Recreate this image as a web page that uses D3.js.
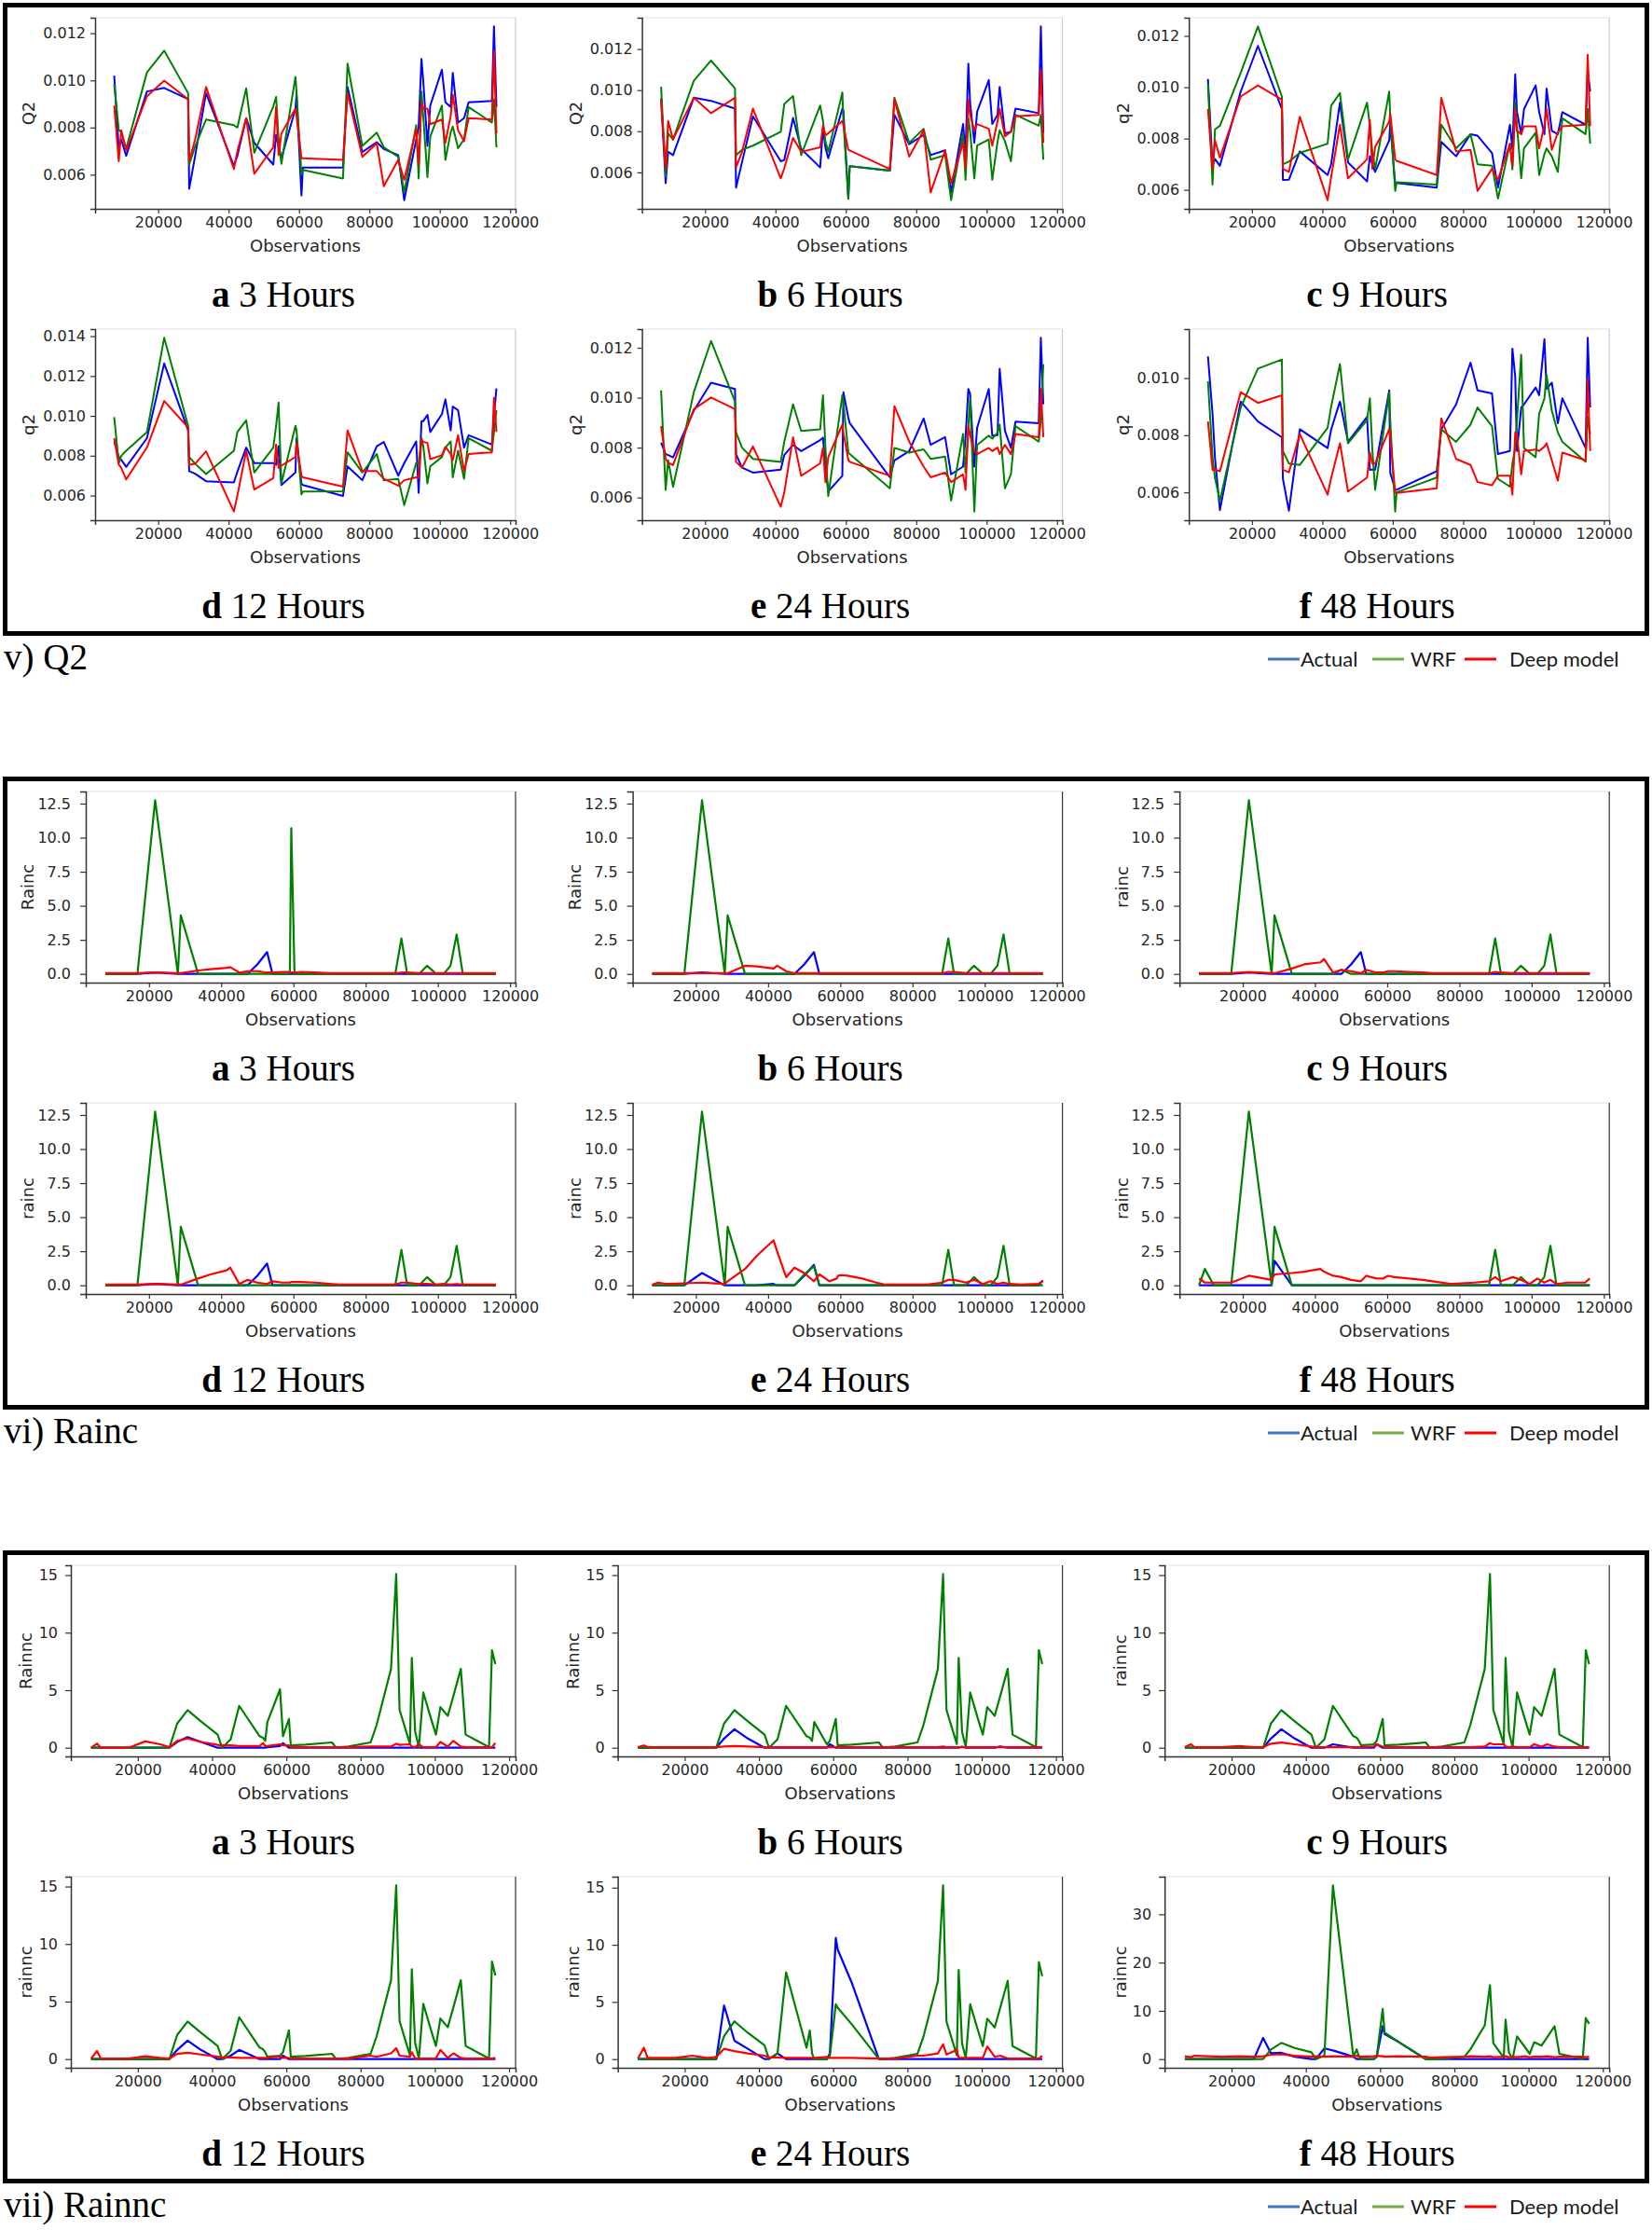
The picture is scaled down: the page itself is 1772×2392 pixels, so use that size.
<!DOCTYPE html>
<html><head><meta charset="utf-8">
<script src="https://cdn.jsdelivr.net/npm/d3@7"></script>
<style>body{margin:0;background:#fff}</style>
</head><body><svg id="c" width="1772" height="2392" xmlns="http://www.w3.org/2000/svg"></svg>
<script>
// ---------- labels ----------
const SECTION_LABELS = ["v) Q2", "vi) Rainc", "vii) Rainnc"];
const PANEL_LETTERS = ["a", "b", "c", "d", "e", "f"];
const PANEL_HOURS = ["3 Hours", "6 Hours", "9 Hours", "12 Hours", "24 Hours", "48 Hours"];
const Q2_YLABELS = ["Q2", "Q2", "q2", "q2", "q2", "q2"];
const RAINC_YLABELS = ["Rainc", "Rainc", "rainc", "rainc", "rainc", "rainc"];
const RAINNC_YLABELS = ["Rainnc", "Rainnc", "rainnc", "rainnc", "rainnc", "rainnc"];
const LEGEND_NAMES = ["Actual", "WRF", "Deep model"];
const X_TICKS = [20000, 40000, 60000, 80000, 100000, 120000];
const Y_TICKS_Q2 = [0.004, 0.006, 0.008, 0.010, 0.012, 0.014];
const Y_TICKS_RAINC = [0, 2.5, 5, 7.5, 10, 12.5];
const Y_TICKS_RAINNC = [0, 5, 10, 15];
const Y_TICKS_RAINNC_F = [0, 10, 20, 30];

// ---------- Q2 data ----------
const X_Q2 = [7500, 8800, 9500, 10900, 16800, 21700, 28500, 28800, 30500, 33600,
  41500, 42500, 45000, 47300, 52700, 53500, 54200, 55000, 59000, 59300,
  60700, 61100, 72500, 73800, 78000, 82100, 84100, 88200, 89900, 93300,
  94000, 94800, 95300, 96500, 97300, 100600, 101600, 103100, 103700, 105200,
  106900, 108200, 114800, 115400, 116100];

const Q2_A_ACTUAL = [0.0102, 0.0071, 0.0075, 0.0068, 0.00953, 0.00968, 0.0092, 0.0054, 0.0068, 0.00946,
  0.00637, 0.0068, 0.0084, 0.00735, 0.00643, 0.00769, 0.0072, 0.0067, 0.0088, 0.0094,
  0.00512, 0.0063, 0.0063, 0.00972, 0.00696, 0.00738, 0.00709, 0.00683, 0.00492, 0.00749,
  0.0080, 0.01091, 0.0100, 0.00722, 0.00893, 0.01045, 0.00907, 0.00887, 0.01032, 0.00821,
  0.0084, 0.00907, 0.00913, 0.01229, 0.00887];
const Q2_A_WRF = [0.00985, 0.0079, 0.0078, 0.0071, 0.01034, 0.01126, 0.00946, 0.00643, 0.0072, 0.00834,
  0.0081, 0.0080, 0.00966, 0.00693, 0.0089, 0.0093, 0.0075, 0.00646, 0.01015, 0.0095,
  0.0060, 0.0062, 0.00584, 0.01071, 0.00722, 0.00778, 0.00716, 0.00676, 0.00525, 0.0081,
  0.00584, 0.00953, 0.0085, 0.0059, 0.00762, 0.00893, 0.00663, 0.0078, 0.00804, 0.00712,
  0.0075, 0.00887, 0.00821, 0.0092, 0.00716];
const Q2_A_DEEP = [0.00893, 0.00657, 0.00788, 0.00703, 0.00933, 0.00999, 0.0092, 0.00657, 0.0075, 0.00972,
  0.00624, 0.0070, 0.0084, 0.00604, 0.00716, 0.00887, 0.00683, 0.00775, 0.0088, 0.0085,
  0.0067, 0.0067, 0.00663, 0.00946, 0.00676, 0.00733, 0.00551, 0.00663, 0.00578, 0.00795,
  0.00643, 0.00907, 0.0088, 0.0088, 0.00814, 0.00834, 0.00735, 0.0085, 0.0094, 0.00788,
  0.00742, 0.0084, 0.00834, 0.01124, 0.00775];

const Q2_B_ACTUAL = [0.0096, 0.00548, 0.0070, 0.00684, 0.00963, 0.00948, 0.0091, 0.00526, 0.0065, 0.00873,
  0.00654, 0.0066, 0.00865, 0.00714, 0.00624, 0.00812, 0.0072, 0.00669, 0.0091, 0.0090,
  0.00473, 0.0063, 0.00609, 0.0088, 0.00737, 0.00782, 0.00684, 0.00707, 0.00503, 0.00835,
  0.0070, 0.01129, 0.0094, 0.00744, 0.00895, 0.01049, 0.00835, 0.0088, 0.01016, 0.0079,
  0.00797, 0.0091, 0.00888, 0.0131, 0.0079];
const Q2_B_WRF = [0.01016, 0.0058, 0.0079, 0.0076, 0.01046, 0.01144, 0.01008, 0.00684, 0.0071, 0.0073,
  0.00797, 0.00933, 0.00971, 0.00684, 0.00925, 0.0085, 0.0075, 0.0070, 0.00989, 0.0085,
  0.00473, 0.0063, 0.00609, 0.00963, 0.00744, 0.00812, 0.00662, 0.00684, 0.00465, 0.0079,
  0.00564, 0.00865, 0.0080, 0.00571, 0.0073, 0.0076, 0.00564, 0.0075, 0.00805, 0.00752,
  0.00654, 0.0088, 0.00827, 0.0088, 0.00662];
const Q2_B_DEEP = [0.00948, 0.00616, 0.0085, 0.0076, 0.00963, 0.00888, 0.00963, 0.00624, 0.0070, 0.0091,
  0.00571, 0.0062, 0.00767, 0.0070, 0.00722, 0.00827, 0.0078, 0.0079, 0.0085, 0.0083,
  0.0071, 0.00707, 0.00616, 0.00956, 0.00677, 0.00805, 0.00503, 0.00707, 0.00548, 0.00744,
  0.00624, 0.00956, 0.0088, 0.00805, 0.00835, 0.00812, 0.0073, 0.0085, 0.0091, 0.00775,
  0.00797, 0.00873, 0.0088, 0.01099, 0.00744];

const Q2_C_ACTUAL = [0.01032, 0.00694, 0.0072, 0.00694, 0.00983, 0.01161, 0.00915, 0.00639, 0.0064, 0.0075,
  0.00658, 0.0070, 0.0094, 0.00707, 0.00633, 0.00731, 0.0070, 0.0067, 0.00793, 0.0086,
  0.0062, 0.00627, 0.00609, 0.00787, 0.00731, 0.00817, 0.00811, 0.00744, 0.00609, 0.00854,
  0.0076, 0.0105, 0.00903, 0.00817, 0.00915, 0.01007, 0.00903, 0.00817, 0.00995, 0.0083,
  0.00817, 0.00903, 0.00854, 0.01063, 0.00983];
const Q2_C_WRF = [0.01013, 0.00621, 0.00836, 0.0085, 0.01056, 0.01237, 0.00964, 0.0070, 0.0071, 0.00744,
  0.0078, 0.00928, 0.00977, 0.00719, 0.0094, 0.0085, 0.0075, 0.00682, 0.00983, 0.0088,
  0.00596, 0.0063, 0.00621, 0.00854, 0.00762, 0.00817, 0.0070, 0.00694, 0.00566, 0.0078,
  0.0068, 0.0094, 0.0085, 0.00645, 0.00762, 0.00823, 0.00658, 0.0074, 0.00762, 0.00731,
  0.0067, 0.00879, 0.00817, 0.00915, 0.0078];
const Q2_C_DEEP = [0.00915, 0.00682, 0.00793, 0.00725, 0.00964, 0.01007, 0.00952, 0.00682, 0.0067, 0.00885,
  0.0056, 0.0065, 0.00854, 0.00645, 0.00719, 0.00872, 0.00682, 0.00768, 0.00866, 0.00897,
  0.0072, 0.00713, 0.00658, 0.00958, 0.0075, 0.00756, 0.00596, 0.00682, 0.00639, 0.0078,
  0.00694, 0.00915, 0.0083, 0.00817, 0.00848, 0.00848, 0.00762, 0.0085, 0.00915, 0.00756,
  0.00823, 0.00848, 0.00854, 0.01126, 0.00848];

const Q2_D_ACTUAL = [0.00872, 0.00794, 0.0078, 0.00744, 0.00888, 0.01263, 0.00927, 0.00723, 0.0071, 0.00672,
  0.00666, 0.0072, 0.00841, 0.00763, 0.00763, 0.00755, 0.00848, 0.00653, 0.00716, 0.00888,
  0.0066, 0.00653, 0.00598, 0.00747, 0.00677, 0.00848, 0.00869, 0.0070, 0.00763, 0.00872,
  0.00614, 0.00973, 0.00973, 0.01005, 0.00919, 0.01009, 0.01083, 0.00927, 0.01047, 0.01028,
  0.00841, 0.00903, 0.00856, 0.01005, 0.01138];
const Q2_D_WRF = [0.00994, 0.00763, 0.0080, 0.00825, 0.00919, 0.01392, 0.0095, 0.00794, 0.0076, 0.00708,
  0.00825, 0.00919, 0.00978, 0.00716, 0.00841, 0.0095, 0.01067, 0.00661, 0.0095, 0.00927,
  0.00606, 0.0062, 0.00622, 0.00817, 0.00716, 0.00809, 0.00677, 0.00684, 0.00552, 0.00763,
  0.0076, 0.00888, 0.0085, 0.00661, 0.00747, 0.00794, 0.00841, 0.00872, 0.00692, 0.00825,
  0.00684, 0.00888, 0.00825, 0.00919, 0.01028];
const Q2_D_DEEP = [0.00888, 0.00755, 0.0074, 0.00681, 0.00841, 0.01075, 0.00942, 0.00755, 0.0076, 0.00822,
  0.0052, 0.0060, 0.00825, 0.0063, 0.00688, 0.00856, 0.00739, 0.0075, 0.00794, 0.00864,
  0.0070, 0.00692, 0.00645, 0.00927, 0.00723, 0.00723, 0.00684, 0.0065, 0.00677, 0.00692,
  0.0069, 0.0088, 0.0087, 0.00864, 0.00783, 0.00802, 0.00844, 0.00809, 0.00778, 0.00903,
  0.00723, 0.00809, 0.00817, 0.01091, 0.00919];

const Q2_E_ACTUAL = [0.0082, 0.00774, 0.0077, 0.00761, 0.00948, 0.0106, 0.01035, 0.00774, 0.0072, 0.0070,
  0.00712, 0.0077, 0.00811, 0.00786, 0.0083, 0.0084, 0.0072, 0.00625, 0.00687, 0.01022,
  0.0092, 0.00898, 0.00681, 0.00749, 0.00786, 0.00917, 0.00811, 0.00842, 0.00693, 0.00724,
  0.0084, 0.01035, 0.01016, 0.00724, 0.0088, 0.01035, 0.00848, 0.0085, 0.01116, 0.00867,
  0.00799, 0.00904, 0.00898, 0.0124, 0.00973];
const Q2_E_WRF = [0.01029, 0.00631, 0.00749, 0.00643, 0.01022, 0.01227, 0.00985, 0.00861, 0.0080, 0.00755,
  0.00743, 0.00824, 0.00973, 0.00867, 0.00873, 0.0101, 0.0080, 0.00606, 0.0101, 0.0098,
  0.0078, 0.00774, 0.00637, 0.00799, 0.0078, 0.00793, 0.00755, 0.00764, 0.00588, 0.00855,
  0.0070, 0.00886, 0.00998, 0.00544, 0.00811, 0.00848, 0.00836, 0.0086, 0.00892, 0.00637,
  0.00693, 0.00886, 0.00824, 0.0091, 0.01134];
const Q2_E_DEEP = [0.00886, 0.00755, 0.0074, 0.0073, 0.00954, 0.01001, 0.00954, 0.00743, 0.0072, 0.00805,
  0.00563, 0.0062, 0.00842, 0.00687, 0.00737, 0.00799, 0.00662, 0.00762, 0.00892, 0.0086,
  0.0075, 0.00743, 0.00687, 0.00966, 0.00824, 0.00724, 0.00681, 0.0070, 0.00662, 0.00693,
  0.00631, 0.00886, 0.0085, 0.00786, 0.00774, 0.00799, 0.00786, 0.0080, 0.00774, 0.00811,
  0.00774, 0.00855, 0.00842, 0.01035, 0.00842];

const Q2_F_ACTUAL = [0.01076, 0.00875, 0.0072, 0.00538, 0.00918, 0.00848, 0.00793, 0.00647, 0.00536, 0.00821,
  0.00755, 0.0082, 0.00918, 0.00777, 0.00864, 0.00679, 0.0068, 0.00679, 0.00957, 0.00668,
  0.0061, 0.00609, 0.00674, 0.00821, 0.00908, 0.01054, 0.00957, 0.00946, 0.00734, 0.00745,
  0.01103, 0.01005, 0.00745, 0.00897, 0.00908, 0.00967, 0.0094, 0.01136, 0.00962, 0.00984,
  0.00842, 0.00929, 0.00755, 0.01141, 0.00897];
const Q2_F_WRF = [0.00989, 0.00723, 0.0065, 0.00571, 0.00897, 0.01033, 0.01065, 0.00745, 0.00701, 0.00696,
  0.00826, 0.0090, 0.01049, 0.00772, 0.00853, 0.00929, 0.0075, 0.00609, 0.00951, 0.0085,
  0.00533, 0.0060, 0.00652, 0.00821, 0.00777, 0.00837, 0.00897, 0.00832, 0.00647, 0.0062,
  0.00701, 0.00755, 0.00853, 0.01082, 0.00755, 0.00723, 0.00875, 0.00929, 0.01011, 0.00886,
  0.0081, 0.00777, 0.00707, 0.00864, 0.00804];
const Q2_F_DEEP = [0.00848, 0.00679, 0.0068, 0.00674, 0.00951, 0.00913, 0.0094, 0.00679, 0.0067, 0.00804,
  0.00592, 0.0065, 0.00772, 0.00603, 0.00652, 0.00739, 0.00701, 0.00701, 0.00821, 0.0079,
  0.0060, 0.00598, 0.00614, 0.00859, 0.00717, 0.00696, 0.00636, 0.00625, 0.00658, 0.00658,
  0.00592, 0.0081, 0.0080, 0.00663, 0.00745, 0.0075, 0.00745, 0.0076, 0.00772, 0.00712,
  0.00641, 0.00739, 0.00712, 0.00995, 0.00745];

// ---------- Rainc data ----------
const X_RAINC = [7900, 9500, 12000, 16800, 21700, 28000, 28800, 33600, 37000, 41500,
  42500, 45000, 47300, 50000, 52700, 54200, 57000, 59000, 59400, 60300,
  62000, 66000, 70000, 72500, 78000, 84100, 88200, 89900, 91500, 94800,
  97000, 99500, 101600, 103500, 105200, 106900, 110000, 114800, 116100];

const RAINC_A_ACTUAL = [0, 0, 0, 0, 0.1, 0, 0, 0, 0, 0, 0, 0, 0, 0.7, 1.6, 0, 0, 0, 0, 0,
  0, 0, 0, 0, 0, 0, 0, 0, 0, 0, 0, 0, 0, 0, 0, 0, 0, 0, 0];
const RAINC_B_ACTUAL = [0, 0, 0, 0, 0.1, 0, 0, 0, 0, 0, 0, 0, 0, 0.7, 1.6, 0, 0, 0, 0, 0,
  0, 0, 0, 0, 0, 0, 0, 0, 0, 0, 0, 0, 0, 0, 0, 0, 0, 0, 0];
const RAINC_C_ACTUAL = [0, 0, 0, 0, 0.1, 0, 0, 0, 0, 0, 0, 0, 0, 0.7, 1.6, 0, 0, 0, 0, 0,
  0, 0, 0, 0, 0, 0, 0, 0, 0, 0, 0, 0, 0, 0, 0, 0, 0, 0, 0];
const RAINC_D_ACTUAL = [0, 0, 0, 0, 0.1, 0, 0, 0, 0, 0, 0, 0, 0, 0.7, 1.6, 0, 0, 0, 0, 0,
  0, 0, 0, 0, 0, 0, 0, 0, 0, 0, 0, 0, 0, 0, 0, 0, 0, 0, 0];
const RAINC_E_ACTUAL = [0, 0, 0, 0, 0.9, 0, 0, 0, 0, 0.1, 0, 0, 0, 0.7, 1.5, 0, 0, 0, 0, 0,
  0, 0, 0, 0, 0, 0, 0, 0, 0, 0, 0, 0, 0, 0, 0, 0, 0, 0, 0.35];
const RAINC_F_ACTUAL = [0, 0, 0, 0, 0, 0, 1.8, 0, 0, 0, 0, 0, 0, 0, 0, 0, 0, 0, 0, 0,
  0, 0, 0, 0, 0, 0, 0, 0, 0, 0, 0, 0, 0, 0, 0, 0, 0, 0, 0];

const RAINC_A_WRF = [0, 0, 0, 0, 12.75, 0, 4.3, 0, 0, 0, 0, 0, 0, 0, 0, 0, 0, 0, 10.7, 0,
  0, 0, 0, 0, 0, 0, 0, 2.6, 0, 0, 0.6, 0, 0, 0.6, 2.9, 0, 0, 0, 0];
const RAINC_B_WRF = [0, 0, 0, 0, 12.75, 0, 4.3, 0, 0, 0, 0, 0, 0, 0, 0, 0, 0, 0, 0, 0,
  0, 0, 0, 0, 0, 0, 0, 2.6, 0, 0, 0.6, 0, 0, 0.6, 2.9, 0, 0, 0, 0];
const RAINC_C_WRF = [0, 0, 0, 0, 12.75, 0, 4.3, 0, 0, 0, 0, 0, 0.3, 0, 0, 0, 0, 0, 0, 0,
  0, 0, 0, 0, 0, 0, 0, 2.6, 0, 0, 0.6, 0, 0, 0.6, 2.9, 0, 0, 0, 0];
const RAINC_D_WRF = [0, 0, 0, 0, 12.75, 0, 4.3, 0, 0, 0, 0, 0, 0, 0, 0, 0, 0, 0, 0, 0,
  0, 0, 0, 0, 0, 0, 0, 2.6, 0, 0, 0.6, 0, 0, 0.6, 2.9, 0, 0, 0, 0];
const RAINC_E_WRF = [0, 0, 0, 0, 12.75, 0, 4.3, 0, 0, 0, 0, 0, 0, 0.8, 1.4, 0, 0, 0, 0, 0,
  0, 0, 0, 0, 0, 0, 0, 2.6, 0, 0, 0.6, 0, 0, 0.6, 2.9, 0, 0, 0, 0];
const RAINC_F_WRF = [0, 1.2, 0, 0, 12.75, 0, 4.3, 0, 0, 0, 0, 0, 0, 0, 0, 0, 0, 0, 0, 0,
  0, 0, 0, 0, 0, 0, 0, 2.6, 0, 0, 0.6, 0, 0, 0.6, 2.9, 0, 0, 0, 0];

const RAINC_A_DEEP = [0.05, 0.05, 0.05, 0.05, 0.1, 0.05, 0.05, 0.25, 0.35, 0.45,
  0.5, 0.1, 0.2, 0.2, 0.1, 0.1, 0.15, 0.15, 0.1, 0.1,
  0.15, 0.1, 0.05, 0.05, 0.05, 0.05, 0.05, 0.1, 0.1, 0.05,
  0.05, 0.05, 0.05, 0.05, 0.05, 0.05, 0.05, 0.05, 0.05];
const RAINC_B_DEEP = [0.05, 0.05, 0.05, 0.05, 0.05, 0.05, 0.05, 0.6, 0.55, 0.4,
  0.6, 0.2, 0.05, 0.05, 0.05, 0.05, 0.05, 0.05, 0.05, 0.05,
  0.05, 0.05, 0.05, 0.05, 0.05, 0.05, 0.05, 0.15, 0.15, 0.05,
  0.05, 0.05, 0.05, 0.05, 0.05, 0.05, 0.05, 0.05, 0.05];
const RAINC_C_DEEP = [0.05, 0.05, 0.05, 0.05, 0.15, 0.05, 0.05, 0.4, 0.7, 0.85,
  1.1, 0.1, 0.3, 0.2, 0.05, 0.3, 0.1, 0.1, 0.15, 0.2,
  0.2, 0.15, 0.1, 0.05, 0.05, 0.05, 0.05, 0.15, 0.1, 0.05,
  0.05, 0.05, 0.05, 0.05, 0.05, 0.05, 0.05, 0.05, 0.05];
const RAINC_D_DEEP = [0.05, 0.05, 0.05, 0.05, 0.1, 0.05, 0.05, 0.5, 0.8, 1.1,
  1.3, 0.1, 0.4, 0.2, 0.1, 0.3, 0.2, 0.2, 0.25, 0.25,
  0.25, 0.2, 0.1, 0.05, 0.05, 0.05, 0.05, 0.2, 0.2, 0.1,
  0.1, 0.05, 0.1, 0.05, 0.1, 0.05, 0.05, 0.05, 0.05];
const RAINC_E_DEEP = [0.05, 0.2, 0.1, 0.15, 0.2, 0.1, 0.3, 1.2, 2.2, 3.3,
  2.5, 0.6, 1.3, 0.9, 0.3, 0.8, 0.3, 0.5, 0.7, 0.75,
  0.7, 0.5, 0.2, 0.05, 0.05, 0.05, 0.2, 0.4, 0.4, 0.2,
  0.4, 0.1, 0.3, 0.1, 0.2, 0.1, 0.05, 0.1, 0.3];
const RAINC_F_DEEP = [0.5, 0.2, 0.2, 0.2, 0.7, 0.4, 0.8, 0.9, 1.0, 1.2,
  1.0, 0.7, 0.6, 0.4, 0.3, 0.7, 0.5, 0.5, 0.6, 0.7,
  0.6, 0.5, 0.4, 0.3, 0.1, 0.2, 0.3, 0.6, 0.3, 0.6,
  0.4, 0.1, 0.5, 0.2, 0.4, 0.1, 0.2, 0.2, 0.5];

// ---------- Rainnc data ----------
const X_RAINNC = [7400, 9000, 10000, 17500, 22000, 26000, 28500, 30600, 33400, 37000,
  41500, 42700, 45000, 47300, 52800, 53700, 54300, 54900, 58300, 59100,
  60700, 61200, 65100, 72300, 73400, 76700, 82700, 84300, 88200, 89600,
  90500, 93300, 93800, 94700, 95700, 96900, 99000, 100300, 101500, 103500,
  105000, 107000, 108300, 114600, 115400, 116300];

const RAINNC_A_ACTUAL = [0, 0, 0, 0, 0, 0, 0, 0.5, 0.92, 0.5, 0, 0, 0, 0, 0, 0, 0, 0.05, 0.15, 0.4,
  0, 0, 0, 0, 0, 0, 0, 0, 0, 0, 0, 0, 0, 0, 0, 0, 0, 0, 0, 0, 0, 0, 0, 0, 0, 0];
const RAINNC_B_ACTUAL = [0, 0, 0, 0, 0, 0, 0, 0.8, 1.6, 0.8, 0, 0, 0, 0, 0, 0, 0, 0, 0, 0.3,
  0, 0, 0, 0, 0, 0, 0, 0, 0, 0, 0, 0, 0, 0.1, 0, 0, 0, 0, 0, 0, 0.1, 0, 0, 0, 0, 0];
const RAINNC_C_ACTUAL = [0, 0, 0, 0, 0, 0, 0, 0.8, 1.6, 0.8, 0, 0, 0, 0.3, 0, 0, 0, 0, 0, 0.3,
  0, 0, 0, 0, 0, 0, 0, 0, 0, 0, 0, 0, 0, 0, 0, 0, 0, 0, 0, 0, 0, 0, 0, 0, 0, 0];
const RAINNC_D_ACTUAL = [0, 0, 0, 0, 0, 0, 0, 0.8, 1.6, 0.8, 0, 0, 0.3, 0.8, 0, 0, 0, 0, 0, 0.3,
  0, 0, 0, 0, 0, 0, 0, 0, 0, 0, 0, 0, 0, 0, 0, 0, 0, 0, 0, 0, 0, 0, 0, 0, 0, 0];
const RAINNC_E_ACTUAL = [0, 0, 0, 0, 0, 0, 0, 4.7, 1.6, 0.9, 0, 0, 0.5, 0, 0, 0, 0, 0, 0, 0.5,
  10.6, 9.6, 6.6, 0, 0, 0, 0, 0, 0, 0, 0, 0, 0, 0, 0, 0, 0, 0, 0, 0, 0, 0, 0, 0, 0, 0];
const RAINNC_F_ACTUAL = [0, 0, 0, 0, 0, 0, 4.4, 1.2, 1.3, 0.5, 0, 0, 2.2, 1.8, 0.5, 0, 0, 0, 0, 0.5,
  6.8, 5.2, 3.5, 0, 0, 0, 0, 0, 0, 0, 0, 0, 0, 0, 0, 0, 0, 0, 0, 0, 0, 0, 0, 0, 0, 0];

const RAINNC_A_WRF = [0, 0, 0, 0, 0, 0, 0, 2.1, 3.26, 2.3, 1.14, 0, 0.73, 3.64, 1.0, 0.87, 0.6, 2.23, 5.08, 1.0,
  2.5, 0.2, 0.27, 0.46, 0, 0.1, 0.46, 1.96, 6.85, 15.1, 3.3, 0.33, 7.8, 1.4, 0.05, 4.8, 2.5, 1.14, 3.53, 2.77,
  4.5, 6.85, 1.14, 0.05, 8.48, 7.26];
const RAINNC_B_WRF = [0, 0, 0, 0, 0, 0, 0, 2.1, 3.26, 2.3, 1.14, 0, 0.73, 3.64, 1.0, 0.87, 0.6, 2.23, 0.3, 0.6,
  2.5, 0.2, 0.27, 0.46, 0, 0.1, 0.46, 1.96, 6.85, 15.1, 3.3, 0.33, 7.8, 1.4, 0.05, 4.8, 2.5, 1.14, 3.53, 2.77,
  4.5, 6.85, 1.14, 0.05, 8.48, 7.26];
const RAINNC_C_WRF = [0, 0, 0, 0, 0, 0, 0, 2.1, 3.26, 2.3, 1.14, 0, 0.73, 3.64, 1.0, 0.87, 0.6, 0.2, 0.3, 0.6,
  2.5, 0.2, 0.27, 0.46, 0, 0.1, 0.46, 1.96, 6.85, 15.1, 3.3, 0.33, 7.8, 1.4, 0.05, 4.8, 2.5, 1.14, 3.53, 2.77,
  4.5, 6.85, 1.14, 0.05, 8.48, 7.26];
const RAINNC_D_WRF = [0, 0, 0, 0, 0, 0, 0, 2.1, 3.26, 2.3, 1.14, 0, 0.73, 3.64, 1.0, 0.87, 0.6, 0.2, 0.3, 0.6,
  2.5, 0.2, 0.27, 0.46, 0, 0.1, 0.46, 1.96, 6.85, 15.1, 3.3, 0.33, 7.8, 1.4, 0.05, 4.8, 2.5, 1.14, 3.53, 2.77,
  4.5, 6.85, 1.14, 0.05, 8.48, 7.26];
const RAINNC_E_WRF = [0, 0, 0, 0, 0, 0, 0, 2.0, 3.3, 2.3, 1.2, 0, 0.5, 7.6, 1.0, 2.5, 0.5, 0, 0, 0.3,
  4.8, 4.5, 3.0, 0, 0, 0.1, 0.46, 1.96, 6.85, 15.2, 3.3, 0.33, 7.8, 1.4, 0.05, 4.8, 2.5, 1.14, 3.53, 2.77,
  4.5, 6.85, 1.14, 0.05, 8.48, 7.26];
const RAINNC_F_WRF = [0, 0, 0, 0, 0, 0, 0, 2.0, 3.35, 2.3, 1.4, 0, 0.7, 36.0, 0.5, 2.0, 0.5, 0, 0, 0.5,
  10.4, 5.5, 3.5, 0, 0, 0.1, 0.5, 2.0, 7.0, 15.3, 3.3, 0.3, 8.2, 1.4, 0.05, 4.7, 2.5, 1.1, 3.5, 2.8,
  4.5, 6.8, 1.1, 0.05, 8.5, 7.3];

const RAINNC_A_DEEP = [0, 0.35, 0, 0, 0.55, 0.3, 0.05, 0.6, 0.8, 0.5, 0.25, 0.2, 0.2, 0.15, 0.15, 0.4, 0.15, 0.15, 0.3, 0.2,
  0.2, 0.05, 0.05, 0.05, 0.05, 0.05, 0.1, 0.1, 0.1, 0.35, 0.25, 0.3, 0.1, 0.05, 0.3, 0.05, 0.05, 0.05, 0.5, 0.1,
  0.6, 0.1, 0.05, 0.05, 0.05, 0.4];
const RAINNC_B_DEEP = [0.05, 0.2, 0.05, 0.05, 0.05, 0.05, 0.05, 0.1, 0.15, 0.1, 0.05, 0.05, 0.05, 0.05, 0.05, 0.05, 0.05, 0.05, 0.05, 0.05,
  0.05, 0.05, 0.05, 0.05, 0.05, 0.05, 0.05, 0.05, 0.05, 0.1, 0.05, 0.05, 0.05, 0.05, 0.05, 0.05, 0.05, 0.05, 0.05, 0.05,
  0.05, 0.05, 0.05, 0.05, 0.05, 0.05];
const RAINNC_C_DEEP = [0.05, 0.3, 0.05, 0.05, 0.15, 0.05, 0.05, 0.35, 0.45, 0.3, 0.1, 0.05, 0.05, 0.05, 0.05, 0.05, 0.05, 0.05, 0.1, 0.3,
  0.1, 0.05, 0.05, 0.05, 0.05, 0.05, 0.05, 0.05, 0.1, 0.4, 0.3, 0.3, 0.1, 0.05, 0.1, 0.05, 0.05, 0.05, 0.3, 0.1,
  0.3, 0.1, 0.05, 0.05, 0.05, 0.05];
const RAINNC_D_DEEP = [0.05, 0.7, 0.05, 0.05, 0.25, 0.1, 0.05, 0.45, 0.55, 0.4, 0.2, 0.15, 0.15, 0.1, 0.1, 0.1, 0.1, 0.1, 0.25, 0.1,
  0.1, 0.05, 0.05, 0.05, 0.05, 0.05, 0.3, 0.2, 0.5, 0.95, 0.3, 0.2, 0.6, 0.05, 0.05, 0.05, 0.05, 0.05, 0.8, 0.1,
  0.5, 0.1, 0.05, 0.05, 0.05, 0.1];
const RAINNC_E_DEEP = [0.05, 1.0, 0.1, 0.1, 0.3, 0.1, 0.2, 0.9, 0.7, 0.5, 0.3, 0.15, 0.15, 0.1, 0.1, 0.1, 0.1, 0.1, 0.2, 0.1,
  0.1, 0.1, 0.1, 0.05, 0.05, 0.05, 0.3, 0.3, 0.5, 1.3, 0.4, 0.8, 0.1, 0.1, 0.1, 0.1, 0.1, 0.1, 1.1, 0.2,
  0.3, 0.05, 0.05, 0.05, 0.05, 0.3];
const RAINNC_F_DEEP = [0.6, 0.4, 0.7, 0.5, 0.6, 0.5, 0.6, 0.9, 1.0, 0.7, 0.5, 0.6, 0.5, 0.6, 0.5, 0.7, 0.6, 0.5, 0.6, 0.7,
  0.6, 0.5, 0.6, 0.5, 0.3, 0.4, 0.5, 0.6, 0.5, 0.6, 0.4, 0.5, 0.6, 0.4, 0.5, 0.4, 0.6, 0.4, 0.5, 0.5,
  0.6, 0.4, 0.5, 0.5, 0.4, 0.5];

// ---------- assemble ----------
const SECTIONS = [
  { x: X_Q2, ylabels: Q2_YLABELS, fmt: d3.format(".3f"), left: 102, ytick: 5, ypad: 5, rightSpine: "#cccccc", lw: 2, ylx: 31,
    yticks: [Y_TICKS_Q2, Y_TICKS_Q2, Y_TICKS_Q2, Y_TICKS_Q2, Y_TICKS_Q2, Y_TICKS_Q2],
    series: [[Q2_A_ACTUAL, Q2_A_WRF, Q2_A_DEEP], [Q2_B_ACTUAL, Q2_B_WRF, Q2_B_DEEP], [Q2_C_ACTUAL, Q2_C_WRF, Q2_C_DEEP],
             [Q2_D_ACTUAL, Q2_D_WRF, Q2_D_DEEP], [Q2_E_ACTUAL, Q2_E_WRF, Q2_E_DEEP], [Q2_F_ACTUAL, Q2_F_WRF, Q2_F_DEEP]] },
  { x: X_RAINC, ylabels: RAINC_YLABELS, fmt: d3.format(".1f"), left: 92, ytick: 6, ypad: 10, rightSpine: "#333333", lw: 2.2, ylx: 30,
    yticks: [Y_TICKS_RAINC, Y_TICKS_RAINC, Y_TICKS_RAINC, Y_TICKS_RAINC, Y_TICKS_RAINC, Y_TICKS_RAINC],
    series: [[RAINC_A_ACTUAL, RAINC_A_WRF, RAINC_A_DEEP], [RAINC_B_ACTUAL, RAINC_B_WRF, RAINC_B_DEEP], [RAINC_C_ACTUAL, RAINC_C_WRF, RAINC_C_DEEP],
             [RAINC_D_ACTUAL, RAINC_D_WRF, RAINC_D_DEEP], [RAINC_E_ACTUAL, RAINC_E_WRF, RAINC_E_DEEP], [RAINC_F_ACTUAL, RAINC_F_WRF, RAINC_F_DEEP]] },
  { x: X_RAINNC, ylabels: RAINNC_YLABELS, fmt: d3.format("d"), left: 76, ytick: 6, ypad: 8, rightSpine: "#333333", lw: 2.2, ylx: 28,
    yticks: [Y_TICKS_RAINNC, Y_TICKS_RAINNC, Y_TICKS_RAINNC, Y_TICKS_RAINNC, Y_TICKS_RAINNC, Y_TICKS_RAINNC_F],
    series: [[RAINNC_A_ACTUAL, RAINNC_A_WRF, RAINNC_A_DEEP], [RAINNC_B_ACTUAL, RAINNC_B_WRF, RAINNC_B_DEEP], [RAINNC_C_ACTUAL, RAINNC_C_WRF, RAINNC_C_DEEP],
             [RAINNC_D_ACTUAL, RAINNC_D_WRF, RAINNC_D_DEEP], [RAINNC_E_ACTUAL, RAINNC_E_WRF, RAINNC_E_DEEP], [RAINNC_F_ACTUAL, RAINNC_F_WRF, RAINNC_F_DEEP]] }
];
const LINE_COLORS = ["#0000ff", "#008000", "#ff0000"];
const LEGEND_COLORS = ["#4472C4", "#70AD47", "#FF0000"];

const SEC_DY = 830, ROW_DY = 334, COL_DX = 586.6;
const PLOT_RIGHT = 553, PLOT_TOP = 19, PLOT_BOTTOM = 224;
const SANS = "'DejaVu Sans', sans-serif";
const SERIF = "'Liberation Serif', 'Times New Roman', serif";

const svg = d3.select("#c");
svg.append("rect").attr("width", 1772).attr("height", 2392).attr("fill", "#fff");

function pad(ext) { const m = (ext[1] - ext[0]) * 0.05; return [ext[0] - m, ext[1] + m]; }

SECTIONS.forEach((sec, s) => {
  const oy = s * SEC_DY;
  svg.append("rect").attr("x", 5.5).attr("y", 5.5 + oy).attr("width", 1761).attr("height", 674)
    .attr("fill", "none").attr("stroke", "#000").attr("stroke-width", 5);

  const xDom = pad(d3.extent(sec.x));
  sec.series.forEach((trip, i) => {
    const r = Math.floor(i / 3), c = i % 3;
    const x0 = sec.left + c * COL_DX, x1 = PLOT_RIGHT + c * COL_DX;
    const y0 = PLOT_TOP + r * ROW_DY + oy, y1 = PLOT_BOTTOM + r * ROW_DY + oy;
    const xs = d3.scaleLinear().domain(xDom).range([x0, x1]);
    const yDom = pad(d3.extent(trip.flat()));
    const ys = d3.scaleLinear().domain(yDom).range([y1, y0]);
    const g = svg.append("g");

    g.append("line").attr("x1", x0).attr("x2", x1).attr("y1", y0).attr("y2", y0).attr("stroke", "#e3e3e3").attr("stroke-width", 1.2);
    g.append("line").attr("x1", x1).attr("x2", x1).attr("y1", y0).attr("y2", y1).attr("stroke", sec.rightSpine).attr("stroke-width", 1.2);

    const line = d3.line().x((d, j) => xs(sec.x[j])).y(d => ys(d));
    trip.forEach((vals, k) => {
      g.append("path").datum(vals).attr("d", line).attr("fill", "none")
        .attr("stroke", LINE_COLORS[k]).attr("stroke-width", sec.lw).attr("stroke-linejoin", "round");
    });

    const xa = g.append("g").attr("transform", `translate(0,${y1})`)
      .call(d3.axisBottom(xs).tickValues(X_TICKS).tickFormat(d3.format("d")).tickSize(5).tickPadding(4));
    const yt = sec.yticks[i].filter(v => v >= yDom[0] && v <= yDom[1]);
    const ya = g.append("g").attr("transform", `translate(${x0},0)`)
      .call(d3.axisLeft(ys).tickValues(yt).tickFormat(sec.fmt).tickSize(sec.ytick).tickPadding(sec.ypad));
    [xa, ya].forEach(a => {
      a.select(".domain").attr("stroke", "#333").attr("stroke-width", 1.5);
      a.selectAll(".tick line").attr("stroke", "#333").attr("stroke-width", 1.2);
      a.selectAll(".tick text").attr("font-family", SANS).attr("font-size", 16).attr("fill", "#262626");
    });

    g.append("text").attr("x", (x0 + x1) / 2).attr("y", y1 + 46).attr("text-anchor", "middle")
      .attr("font-family", SANS).attr("font-size", 18).attr("fill", "#262626").text("Observations");
    g.append("text").attr("transform", `translate(${sec.ylx + c * COL_DX},${(y0 + y1) / 2}) rotate(-90)`)
      .attr("text-anchor", "middle").attr("dy", "0.35em")
      .attr("font-family", SANS).attr("font-size", 18).attr("fill", "#262626").text(sec.ylabels[i]);

    const t = g.append("text").attr("x", 304 + c * COL_DX).attr("y", 329 + r * ROW_DY + oy)
      .attr("text-anchor", "middle").attr("font-family", SERIF).attr("font-size", 39).attr("fill", "#000");
    t.append("tspan").attr("font-weight", "bold").text(PANEL_LETTERS[i]);
    t.append("tspan").text(" " + PANEL_HOURS[i]);
  });

  svg.append("text").attr("x", 4).attr("y", 718 + oy).attr("font-family", SERIF).attr("font-size", 39)
    .attr("fill", "#000").text(SECTION_LABELS[s]);

  const lx = [1360, 1472, 1571], tx = [1395, 1513, 1619];
  LEGEND_NAMES.forEach((nm, k) => {
    svg.append("line").attr("x1", lx[k]).attr("x2", lx[k] + 34).attr("y1", 707 + oy).attr("y2", 707 + oy)
      .attr("stroke", LEGEND_COLORS[k]).attr("stroke-width", 3);
    svg.append("text").attr("x", tx[k]).attr("y", 715 + oy).attr("font-family", "Lato, 'Open Sans', sans-serif")
      .attr("font-size", 22).attr("fill", "#1a1a1a").text(nm);
  });
});
</script>
</body></html>
